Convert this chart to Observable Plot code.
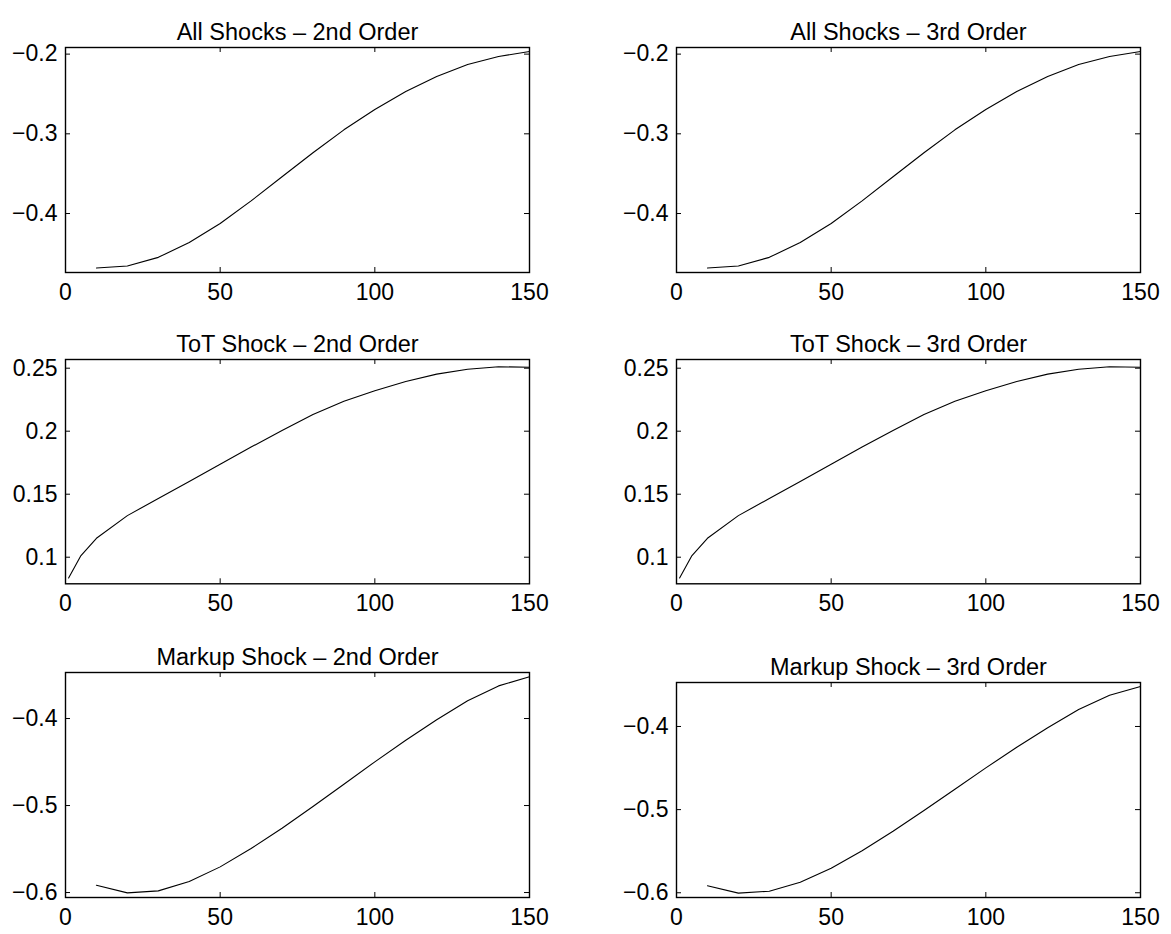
<!DOCTYPE html>
<html><head><meta charset="utf-8">
<script src="https://cdn.jsdelivr.net/npm/d3@7"></script>
<script src="https://cdn.jsdelivr.net/npm/@observablehq/plot@0.6"></script>
<style>
body{margin:0;background:#fff;}
#chart{position:relative;width:1171px;height:934px;background:#fff;font-family:"Liberation Sans",Arial,Helvetica,sans-serif;}
#chart svg{position:absolute;overflow:visible;}
</style></head><body><div id="chart"></div>
<script>
// ---- data ----
const xAll = [10,20,30,40,50,60,70,80,90,100,110,120,130,140,150];
const allShocks2nd = [-0.4683,-0.4658,-0.4550,-0.4363,-0.4125,-0.3842,-0.3538,-0.3238,-0.2950,-0.2695,-0.2470,-0.2280,-0.2130,-0.2030,-0.1967];
const allShocks3rd = [-0.4683,-0.4658,-0.4550,-0.4363,-0.4125,-0.3842,-0.3538,-0.3238,-0.2950,-0.2695,-0.2470,-0.2280,-0.2130,-0.2030,-0.1967];

const xToT = [1,5,10,20,30,40,50,60,70,80,90,100,110,120,130,140,150];
const tot2nd = [0.0835,0.1013,0.1150,0.1330,0.1466,0.1600,0.1737,0.1874,0.2005,0.2132,0.2237,0.2321,0.2395,0.2453,0.2492,0.2511,0.2508];
const tot3rd = [0.0835,0.1013,0.1150,0.1330,0.1466,0.1600,0.1737,0.1874,0.2005,0.2132,0.2237,0.2321,0.2395,0.2453,0.2492,0.2511,0.2508];

const xMarkup = [10,20,30,40,50,60,70,80,90,100,110,120,130,140,150];
const markup2nd = [-0.5916,-0.6004,-0.5981,-0.5874,-0.5705,-0.5494,-0.5261,-0.5011,-0.4755,-0.4498,-0.4250,-0.4015,-0.3795,-0.3625,-0.3520];
const markup3rd = [-0.5916,-0.6004,-0.5981,-0.5874,-0.5705,-0.5494,-0.5261,-0.5011,-0.4755,-0.4498,-0.4250,-0.4015,-0.3795,-0.3625,-0.3520];

const titles = ["All Shocks – 2nd Order","All Shocks – 3rd Order","ToT Shock – 2nd Order","ToT Shock – 3rd Order","Markup Shock – 2nd Order","Markup Shock – 3rd Order"];
const xTicks = [0,50,100,150];
const yTicksAll = [-0.4,-0.3,-0.2];
const yTicksToT = [0.1,0.15,0.2,0.25];
const yTicksMarkup = [-0.6,-0.5,-0.4];
const yDomainAll = [-0.474,-0.1917];
const yDomainToT = [0.0789,0.2569];
const yDomainMarkup = [-0.6057,-0.3471];

// ---- layout ----
const FONT = '"Liberation Sans", Arial, Helvetica, sans-serif';
const fmt = d3.format("~g");
const chart = document.getElementById("chart");

function panel({fx, fy, fw, fh, xs, ys, yDomain, yTicks, title}) {
  const mL = 70, mR = 30, mT = 55, mB = 45;
  const svg = Plot.plot({
    width: mL + fw + mR,
    height: mT + fh + mB,
    marginLeft: mL, marginRight: mR, marginTop: mT, marginBottom: mB,
    x: {domain: [0,150], axis: null},
    y: {domain: yDomain, axis: null},
    style: {fontFamily: FONT, fontSize: "23px", color: "#000", background: "transparent", overflow: "visible"},
    marks: [
      Plot.axisX(xTicks, {anchor: "bottom", tickSize: 0, tickPadding: 11, fontSize: 23, tickFormat: fmt, label: null}),
      Plot.axisY(yTicks, {anchor: "left", tickSize: 0, tickPadding: 8, fontSize: 23, tickFormat: fmt, label: null}),
      Plot.tickX(xTicks, {x: d => d, stroke: "#000", strokeWidth: 1, insetBottom: fh - 5}),
      Plot.tickX(xTicks, {x: d => d, stroke: "#000", strokeWidth: 1, insetTop: fh - 5}),
      Plot.tickY(yTicks, {y: d => d, stroke: "#000", strokeWidth: 1, insetRight: fw - 5}),
      Plot.tickY(yTicks, {y: d => d, stroke: "#000", strokeWidth: 1, insetLeft: fw - 5}),
      Plot.line(xs.map((x, i) => ({x, y: ys[i]})), {x: "x", y: "y", stroke: "#000", strokeWidth: 1.1}),
      Plot.frame({stroke: "#000", strokeWidth: 1.4}),
      Plot.text([title], {frameAnchor: "top", dy: -24.5, fontSize: 23.5, fill: "#000", text: d => d})
    ]
  });
  svg.style.left = (fx - mL) + "px";
  svg.style.top = (fy - mT) + "px";
  chart.appendChild(svg);
}

const L = 65, R = 676, W = 464;
panel({fx: L, fy: 46.7, fw: W, fh: 225, xs: xAll, ys: allShocks2nd, yDomain: yDomainAll, yTicks: yTicksAll, title: titles[0]});
panel({fx: R, fy: 46.7, fw: W, fh: 225, xs: xAll, ys: allShocks3rd, yDomain: yDomainAll, yTicks: yTicksAll, title: titles[1]});
panel({fx: L, fy: 359, fw: W, fh: 224.3, xs: xToT, ys: tot2nd, yDomain: yDomainToT, yTicks: yTicksToT, title: titles[2]});
panel({fx: R, fy: 359, fw: W, fh: 224.3, xs: xToT, ys: tot3rd, yDomain: yDomainToT, yTicks: yTicksToT, title: titles[3]});
panel({fx: L, fy: 671.7, fw: W, fh: 225, xs: xMarkup, ys: markup2nd, yDomain: yDomainMarkup, yTicks: yTicksMarkup, title: titles[4]});
panel({fx: R, fy: 681.7, fw: W, fh: 215, xs: xMarkup, ys: markup3rd, yDomain: yDomainMarkup, yTicks: yTicksMarkup, title: titles[5]});
</script>
</body></html>
